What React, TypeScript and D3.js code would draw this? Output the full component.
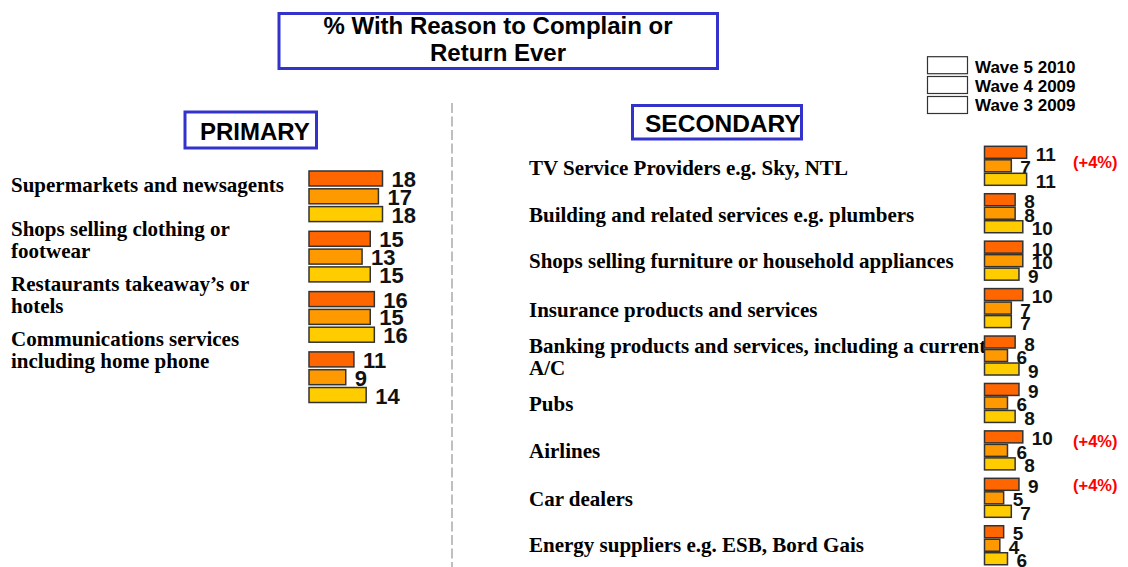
import React from "react";
import * as d3 from "d3";

const waves = ["Wave 5 2010", "Wave 4 2009", "Wave 3 2009"];
const waveColors = ["#FF6600", "#FF9900", "#FFCC00"];

const primaryCategories = [
  ["Supermarkets and newsagents"],
  ["Shops selling clothing or", "footwear"],
  ["Restaurants takeaway\u2019s or", "hotels"],
  ["Communications services", "including home phone"],
];
const primaryWave5 = [18, 15, 16, 11];
const primaryWave4 = [17, 13, 15, 9];
const primaryWave3 = [18, 15, 16, 14];

const secondaryCategories = [
  ["TV Service Providers e.g. Sky, NTL"],
  ["Building and related services e.g. plumbers"],
  ["Shops selling furniture or household appliances"],
  ["Insurance products and services"],
  ["Banking products and services, including a current", "A/C"],
  ["Pubs"],
  ["Airlines"],
  ["Car dealers"],
  ["Energy suppliers e.g. ESB, Bord Gais"],
];
const secondaryWave5 = [11, 8, 10, 10, 8, 9, 10, 9, 5];
const secondaryWave4 = [7, 8, 10, 7, 6, 6, 6, 5, 4];
const secondaryWave3 = [11, 10, 9, 7, 9, 8, 8, 7, 6];
const secondaryChange = ["(+4%)", "", "", "", "", "", "(+4%)", "(+4%)", ""];

const SANS = "'Liberation Sans', Arial, sans-serif";
const SERIF = "'Liberation Serif', 'Times New Roman', serif";
const BLUE = "#3333CC";

type PanelProps = {
  cats: string[][];
  series: number[][];
  x: d3.ScaleLinear<number, number>;
  y: d3.ScaleBand<number>;
  inner: d3.ScaleBand<number>;
  labelX: number;
  labelBaselines: number[];
  valueFont: number;
  valueDy: number;
  lineGap: number;
  textFont: number;
};

function Panel(p: PanelProps) {
  const idx = p.cats.map((_, i) => i);
  return (
    <g>
      {p.cats.map((lines, i) => (
        <text
          key={"c" + i}
          x={p.labelX}
          y={p.labelBaselines[i]}
          fontFamily={SERIF}
          fontWeight="bold"
          fontSize={p.textFont}
          fill="#000"
        >
          {lines.map((l, j) => (
            <tspan key={j} x={p.labelX} dy={j === 0 ? 0 : p.lineGap}>
              {l}
            </tspan>
          ))}
        </text>
      ))}
      {idx.map((i) =>
        p.series.map((s, k) => {
          const y0 = (p.y(i) as number) + (p.inner(k) as number);
          const h = p.inner.bandwidth();
          const x0 = p.x(0);
          const x1 = p.x(s[i]);
          return (
            <g key={"b" + i + "-" + k}>
              <rect
                x={x0}
                y={y0}
                width={x1 - x0}
                height={h}
                fill={waveColors[k]}
                stroke="#333"
                strokeWidth={1.5}
              />
              <text
                x={x1 + 9}
                y={y0 + h + p.valueDy}
                fontFamily={SANS}
                fontWeight="bold"
                fontSize={p.valueFont}
                fill="#111"
              >
                {s[i]}
              </text>
            </g>
          );
        })
      )}
    </g>
  );
}

export default function App() {
  const W = 1128;
  const H = 567;

  // Primary scales
  const xP = d3.scaleLinear().domain([0, 18]).range([309, 382.5]);
  const yP = d3
    .scaleBand<number>()
    .domain(primaryCategories.map((_, i) => i))
    .range([171, 171 + 4 * 60.3]);
  const innerP = d3
    .scaleBand<number>()
    .domain([0, 1, 2])
    .range([0, 50.6])
    .paddingInner(0.157);

  // Secondary scales
  const xS = d3.scaleLinear().domain([0, 10]).range([984.5, 1022.8]);
  const yS = d3
    .scaleBand<number>()
    .domain(secondaryCategories.map((_, i) => i))
    .range([146.3, 146.3 + 9 * 47.43]);
  const innerS = d3
    .scaleBand<number>()
    .domain([0, 1, 2])
    .range([0, 39])
    .paddingInner(0.111);

  const primaryBaselines = [191.7, 236, 290.7, 346];
  const secondaryBaselines = [175, 221.7, 268.3, 316.7, 353.3, 411, 458.3, 505.7, 551.7];
  const changeDy = [22, 0, 0, 0, 0, 0, 16, 13, 0];

  return (
    <div style={{ position: "absolute", left: 0, top: 0 }}>
      <svg width={W} height={H} style={{ display: "block", background: "#fff" }}>
        <rect x={0} y={0} width={W} height={H} fill="#fff" />

        {/* Title */}
        <rect x={279} y={13.5} width={438.5} height={55} fill="#fff" stroke={BLUE} strokeWidth={3} />
        <text x={498} y={33.5} textAnchor="middle" fontFamily={SANS} fontWeight="bold" fontSize={24} fill="#000">
          % With Reason to Complain or
        </text>
        <text x={498} y={60.5} textAnchor="middle" fontFamily={SANS} fontWeight="bold" fontSize={24} fill="#000">
          Return Ever
        </text>

        {/* Legend */}
        {waves.map((w, k) => {
          const ys = [56.7, 76.5, 96.5];
          const bs = [72.5, 91.5, 111];
          return (
            <g key={w}>
              <rect x={927.5} y={ys[k]} width={40} height={17} fill="#fff" stroke="#333" strokeWidth={1.2} />
              <text x={975} y={bs[k]} fontFamily={SANS} fontWeight="bold" fontSize={17} fill="#000">
                {w}
              </text>
            </g>
          );
        })}

        {/* Divider */}
        <line x1={452} y1={103} x2={452} y2={567} stroke="#aaa" strokeWidth={1.5} strokeDasharray="10,3.5" />

        {/* Section headers */}
        <rect x={185} y={112} width={131.5} height={36} fill="#fff" stroke={BLUE} strokeWidth={3} />
        <text x={200} y={139.5} fontFamily={SANS} fontWeight="bold" fontSize={24} fill="#000">
          PRIMARY
        </text>
        <rect x={632.5} y={105.5} width={169} height={33.5} fill="#fff" stroke={BLUE} strokeWidth={3} />
        <text x={645} y={132} fontFamily={SANS} fontWeight="bold" fontSize={24.5} fill="#000">
          SECONDARY
        </text>

        <Panel
          cats={primaryCategories}
          series={[primaryWave5, primaryWave4, primaryWave3]}
          x={xP}
          y={yP}
          inner={innerP}
          labelX={11}
          labelBaselines={primaryBaselines}
          valueFont={22}
          valueDy={1}
          lineGap={22}
          textFont={21}
        />
        <Panel
          cats={secondaryCategories}
          series={[secondaryWave5, secondaryWave4, secondaryWave3]}
          x={xS}
          y={yS}
          inner={innerS}
          labelX={529}
          labelBaselines={secondaryBaselines}
          valueFont={19}
          valueDy={2.5}
          lineGap={22}
          textFont={21}
        />

        {secondaryChange.map((c, i) =>
          c ? (
            <text
              key={"chg" + i}
              x={1073}
              y={(yS(i) as number) + changeDy[i]}
              fontFamily={SANS}
              fontWeight="bold"
              fontSize={16.5}
              fill="#FF0000"
            >
              {c}
            </text>
          ) : null
        )}
      </svg>
    </div>
  );
}
